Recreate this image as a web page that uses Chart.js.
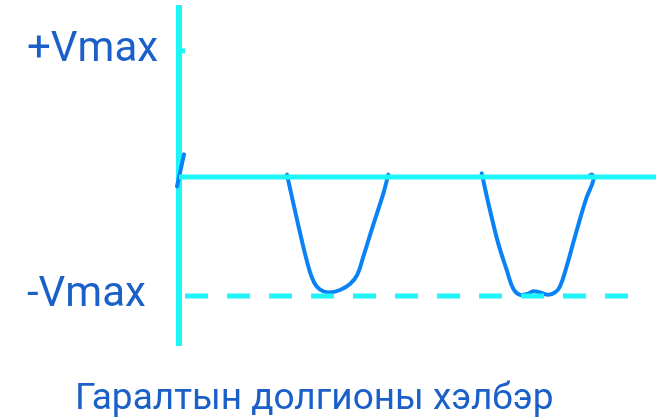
<!DOCTYPE html>
<html>
<head>
<meta charset="utf-8">
<script src="https://cdn.jsdelivr.net/npm/chart.js@4/dist/chart.umd.min.js"></script>
<style>
  html, body { margin: 0; padding: 0; background: #fff; }
  #wrap { width: 656px; height: 419px; }
</style>
</head>
<body>
<div id="wrap"><canvas id="waveChart"></canvas></div>
<script>
// output of a half-wave (negative) rectifier, Vmax = 1
const tickValues = [-1, 1.06];
const tickLabels = ['-Vmax', '+Vmax'];
const caption = 'Гаралтын долгионы хэлбэр';

const zeroLine = [{x: 0, y: 0}, {x: 477, y: 0}];
const minusVmaxLine = [{x: 6, y: -1}, {x: 449, y: -1}];
const vmaxTick = [{x: 0, y: 1.06}, {x: 6, y: 1.06}];

const startStroke = [{x: -2, y: -0.08}, {x: 5, y: 0.19}];
const firstDip = [
    {x: 108, y: 0.02}, {x: 114.3, y: -0.22}, {x: 122.7, y: -0.53}, {x: 127.7, y: -0.70},
    {x: 132.7, y: -0.84}, {x: 137.7, y: -0.92}, {x: 144.3, y: -0.96}, {x: 151, y: -0.97},
    {x: 161, y: -0.95}, {x: 171, y: -0.90}, {x: 178.3, y: -0.82}, {x: 184.3, y: -0.67},
    {x: 194.3, y: -0.40}, {x: 204.3, y: -0.14}, {x: 209.3, y: 0.02}
];
const secondDip = [
    {x: 302.7, y: 0.03}, {x: 311, y: -0.28}, {x: 319.3, y: -0.56}, {x: 327.7, y: -0.78},
    {x: 334.3, y: -0.94}, {x: 341, y: -0.99}, {x: 349.3, y: -0.98}, {x: 354.3, y: -0.96},
    {x: 361, y: -0.97}, {x: 369.3, y: -0.99}, {x: 376, y: -0.97}, {x: 381, y: -0.92},
    {x: 387.7, y: -0.75}, {x: 397.7, y: -0.45}, {x: 407.7, y: -0.17}, {x: 414.3, y: -0.03},
    {x: 413, y: 0.02}, {x: 410.5, y: 0.01}
];

const cyan = '#1ef5f7';
const waveBlue = '#0a82f5';
const textBlue = '#1a60c8';

function refLine(data, width, dash) {
    return {
        data: data,
        borderColor: cyan,
        borderWidth: width,
        borderDash: dash || [],
        pointRadius: 0,
        tension: 0,
        clip: false
    };
}

function waveLine(data) {
    return {
        data: data,
        borderColor: waveBlue,
        borderWidth: 4,
        pointRadius: 0,
        tension: 0.4,
        borderCapStyle: 'round',
        borderJoinStyle: 'round',
        clip: false
    };
}

const ctx = document.getElementById('waveChart').getContext('2d');
new Chart(ctx, {
    type: 'line',
    data: {
        datasets: [
            refLine(zeroLine, 5),
            refLine(minusVmaxLine, 5, [23, 19]),
            refLine(vmaxTick, 5),
            waveLine(startStroke),
            waveLine(firstDip),
            waveLine(secondDip)
        ]
    },
    options: {
        responsive: true,
        maintainAspectRatio: false,
        animation: false,
        layout: { padding: { top: 8, left: 75, right: 0, bottom: 1 } },
        scales: {
            x: {
                type: 'linear',
                display: false,
                min: 0,
                max: 477
            },
            y: {
                type: 'linear',
                min: -1.412,
                max: 1.42,
                afterBuildTicks: function(scale) {
                    scale.ticks = tickValues.map(v => ({ value: v }));
                },
                afterFit: function(scale) {
                    scale.width = 104;
                },
                grid: { display: false },
                border: { display: true, color: cyan, width: 6 },
                ticks: {
                    // mirrored labels, pulled back left of the axis line
                    mirror: true,
                    padding: -152,
                    color: textBlue,
                    font: { family: 'Roboto', size: 42 },
                    callback: function(value) {
                        const i = tickValues.indexOf(value);
                        return i >= 0 ? tickLabels[i] : '';
                    }
                }
            }
        },
        plugins: {
            legend: { display: false },
            tooltip: { enabled: false },
            title: {
                display: true,
                position: 'bottom',
                align: 'start',
                text: caption,
                color: textBlue,
                font: { family: 'Roboto', size: 37, weight: 'normal', lineHeight: 1.0 },
                padding: { top: 36, bottom: 0 }
            }
        }
    }
});
</script>
</body>
</html>
